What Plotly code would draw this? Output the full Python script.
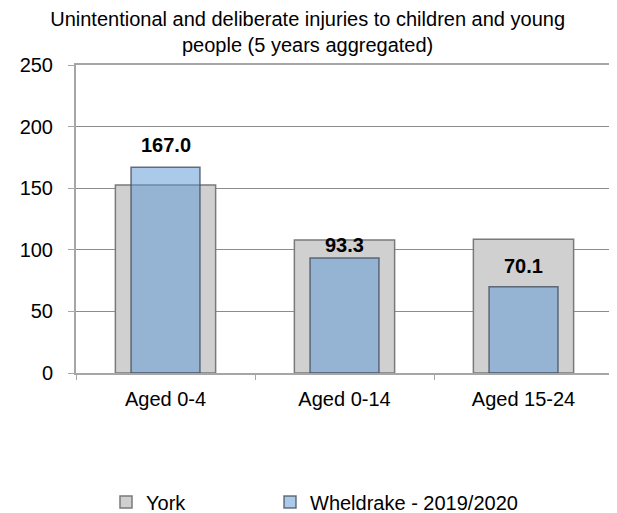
import plotly.graph_objects as go

categories = ["Aged 0-4", "Aged 0-14", "Aged 15-24"]
york = [152.5, 108.0, 108.5]
wheldrake = [167.0, 93.3, 70.1]
wheldrake_labels = ["167.0", "93.3", "70.1"]
y_ticks = [0, 50, 100, 150, 200, 250]

FONT = "Liberation Sans, Arial, sans-serif"
label_shift_px = [22, 13, 21]

fig = go.Figure()
fig.add_trace(go.Bar(
    x=categories, y=york, name="York", width=0.56,
    marker=dict(color="#d0d0d0", line=dict(color="#7a7a7a", width=1.5)),
    hoverinfo="skip", legend="legend",
))
fig.add_trace(go.Bar(
    x=categories, y=wheldrake, name="Wheldrake - 2019/2020", width=0.385,
    marker=dict(color="rgba(96,153,211,0.53)", line=dict(color="rgba(70,80,95,0.8)", width=1.5)),
    hoverinfo="skip", legend="legend2",
))

for cat, val, lab, sh in zip(categories, wheldrake, wheldrake_labels, label_shift_px):
    fig.add_annotation(
        x=cat, y=val, text=lab, showarrow=False, yanchor="middle", yshift=sh,
        font=dict(family=FONT, size=20, color="#000000", weight="bold"),
    )

legend_common = dict(
    orientation="h", xanchor="left", yref="container", yanchor="middle", y=11 / 505,
    font=dict(family=FONT, size=20, color="#000000"), itemwidth=30,
    bgcolor="rgba(0,0,0,0)",
)

fig.update_layout(
    width=609, height=505,
    barmode="overlay",
    paper_bgcolor="white", plot_bgcolor="white",
    margin=dict(l=68, r=4, t=57, b=140, pad=0, autoexpand=False),
    font=dict(family=FONT, size=20, color="#000000"),
    title=dict(
        text="Unintentional and deliberate injuries to children and young<br>people (5 years aggregated)",
        x=0.492, xanchor="center", y=0.965, yref="container", yanchor="top",
        font=dict(family=FONT, size=20, color="#000000"),
    ),
    showlegend=True,
    legend=dict(x=(98 - 68) / 537, **legend_common),
    legend2=dict(x=(262 - 68) / 537, **legend_common),
)
fig.update_xaxes(
    automargin=False,
    showline=True, linecolor="#a6a6a6", linewidth=2, mirror=True,
    ticks="outside", tickson="boundaries", ticklen=5, tickcolor="#a6a6a6",
    ticklabelstandoff=7, showgrid=False,
)
fig.update_yaxes(
    automargin=False,
    range=[0, 250], tickvals=y_ticks, showline=True, linecolor="#a6a6a6", linewidth=2, mirror=True,
    ticks="outside", ticklen=6, tickcolor="#a6a6a6",
    showgrid=True, gridcolor="#8c8c8c", gridwidth=1, zeroline=False,
    ticklabelstandoff=11,
)
fig.write_html("out.html")
